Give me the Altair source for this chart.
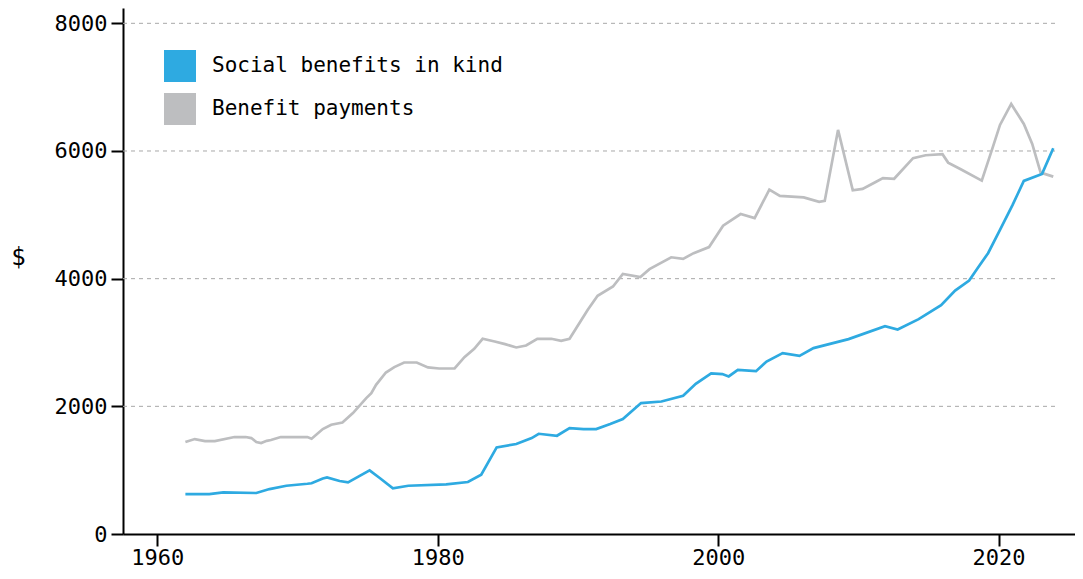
import altair as alt
import pandas as pd

# Series names
blue_name = "Social benefits in kind"
gray_name = "Benefit payments"

gray_years = [1962.0, 1962.67, 1963.4, 1964.1, 1965.5, 1966.3, 1966.7, 1967.06, 1967.4, 1967.8,
              1968.1, 1968.8, 1970.7, 1971.0, 1971.8, 1972.4, 1973.2, 1973.95, 1974.9, 1975.26,
              1975.6, 1976.3, 1976.9, 1977.6, 1978.5, 1979.3, 1980.1, 1981.2, 1981.9, 1982.6,
              1983.2, 1984.06, 1984.8, 1985.6, 1986.3, 1987.1, 1988.1, 1988.8, 1989.4, 1990.7,
              1991.4, 1992.5, 1993.2, 1994.45, 1995.1, 1996.65, 1997.5, 1998.25, 1999.35, 2000.35,
              2001.6, 2002.6, 2003.65, 2004.4, 2006.1, 2007.2, 2007.6, 2008.55, 2009.6, 2010.3,
              2011.2, 2011.75, 2012.55, 2013.9, 2014.8, 2016.0, 2016.4, 2017.3, 2018.8, 2019.6,
              2020.1, 2020.9, 2021.8, 2022.4, 2022.7, 2023.0, 2023.9]
gray_values = [1440, 1487, 1456, 1456, 1519, 1519, 1503, 1440, 1425, 1460,
               1472, 1519, 1519, 1492, 1644, 1711, 1747, 1894, 2129, 2207,
               2337, 2530, 2614, 2687, 2687, 2609, 2593, 2593, 2771, 2901,
               3058, 3016, 2974, 2922, 2953, 3058, 3058, 3026, 3058, 3512,
               3731, 3877, 4075, 4024, 4149, 4335, 4310, 4400, 4495, 4830,
               5012, 4948, 5395, 5296, 5273, 5204, 5218, 6330, 5385, 5406,
               5511, 5575, 5565, 5888, 5933, 5949, 5818, 5714, 5536, 6068,
               6408, 6737, 6424, 6110, 5886, 5661, 5599]

blue_years = [1962.0, 1963.7, 1964.7, 1967.06, 1968.0, 1969.2, 1970.7, 1971.0, 1971.8, 1972.1,
              1973.0, 1973.6, 1975.14, 1975.86, 1976.8, 1977.9, 1980.6, 1982.15, 1983.1, 1984.2,
              1985.6, 1986.7, 1987.2, 1988.5, 1989.4, 1990.4, 1991.3, 1992.3, 1993.2, 1994.5,
              1995.95, 1997.5, 1998.4, 1999.5, 2000.3, 2000.75, 2001.4, 2002.7, 2003.45, 2004.6,
              2005.8, 2006.8, 2009.3, 2011.9, 2012.8, 2014.3, 2015.9, 2016.9, 2017.9, 2018.5,
              2019.25, 2020.1, 2021.0, 2021.8, 2023.1, 2023.9]
blue_values = [626, 626, 651, 642, 704, 756, 787, 795, 870, 885,
               830, 808, 996, 877, 714, 756, 777, 814, 928, 1356,
               1409, 1503, 1570, 1539, 1659, 1644, 1644, 1722, 1800, 2051,
               2076, 2165, 2353, 2515, 2505, 2468, 2572, 2551, 2702, 2833,
               2791, 2912, 3053, 3256, 3203, 3366, 3585, 3814, 3970, 4164,
               4399, 4764, 5155, 5531, 5641, 6043]

grid_values = [2000, 4000, 6000, 8000]
y_ticks = [0, 2000, 4000, 6000, 8000]
x_ticks = [1960, 1980, 2000, 2020]

FONT = "DejaVu Sans Mono"
BLUE = "#2eaae1"
GRAY = "#bdbec0"

df = pd.concat([
    pd.DataFrame({"year": gray_years, "value": gray_values, "series": gray_name}),
    pd.DataFrame({"year": blue_years, "value": blue_values, "series": blue_name}),
])
grid_df = pd.DataFrame({"v": grid_values})

x_scale = alt.Scale(domain=[1957.55, 2025.45], nice=False, zero=False)
y_scale = alt.Scale(domain=[0, 8240], nice=False)
color_scale = alt.Scale(domain=[blue_name, gray_name], range=[BLUE, GRAY])

color_legend = alt.Color(
    "series:N",
    scale=color_scale,
    legend=alt.Legend(
        title=None, orient="none", legendX=41, legendY=42,
        symbolType="square", symbolSize=1024, symbolStrokeWidth=0,
        labelFont=FONT, labelFontSize=21, labelColor="black", labelLimit=0,
        labelOffset=16, rowPadding=11, padding=0,
    ),
)

grid = alt.Chart(grid_df).mark_rule(color="#a8a8a8", strokeDash=[4, 4], strokeWidth=1).encode(
    y=alt.Y("v:Q", scale=y_scale),
    x=alt.value(0),
    x2=alt.value(936),
)

x_enc = alt.X(
    "year:Q", scale=x_scale,
    axis=alt.Axis(values=x_ticks, format="d", title=None, grid=False,
                  labelFont=FONT, labelFontSize=22, labelColor="black",
                  tickSize=12, tickWidth=2, tickColor="black",
                  domainColor="black", domainWidth=2, labelPadding=1),
)
y_enc = alt.Y(
    "value:Q", scale=y_scale,
    axis=alt.Axis(values=y_ticks, format="d", title="$", grid=False,
                  labelFont=FONT, labelFontSize=22, labelColor="black",
                  tickSize=12, tickWidth=2, tickColor="black",
                  domainColor="black", domainWidth=2, labelPadding=4,
                  titleAngle=0, titleX=-105, titleY=249, titleAlign="center",
                  titleBaseline="middle", titleFont=FONT, titleFontSize=24,
                  titleFontWeight="normal", titleColor="black"),
)

# Legend-only layer: no rows pass the filter, so it draws nothing but the legend
legend_layer = alt.Chart(df).transform_filter("false").mark_point(
    shape="square", filled=True, opacity=1
).encode(x=x_enc, y=y_enc, color=color_legend)

gray_line = alt.Chart(df).transform_filter(
    alt.datum.series == gray_name
).mark_line(strokeWidth=2.7).encode(x=x_enc, y=y_enc, color=color_legend, order="year:Q")

blue_line = alt.Chart(df).transform_filter(
    alt.datum.series == blue_name
).mark_line(strokeWidth=2.7).encode(x=x_enc, y=y_enc, color=color_legend, order="year:Q")

chart = alt.layer(legend_layer, grid, gray_line, blue_line).properties(
    width=952, height=526,
    autosize=alt.AutoSizeParams(type="none"),
    padding={"left": 115, "top": 0, "right": 0, "bottom": 36},
).configure_view(stroke=None)

chart.save("out.html", embed_options={"renderer": "svg", "actions": False})
